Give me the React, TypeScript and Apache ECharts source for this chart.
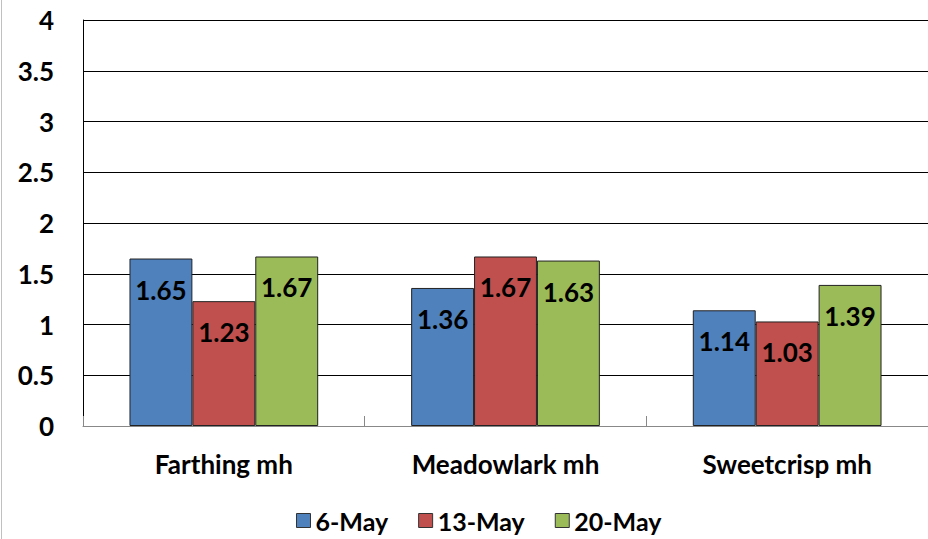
import React, { useEffect, useRef } from "react";
import * as echarts from "echarts";

const categories = ["Farthing mh", "Meadowlark mh", "Sweetcrisp mh"];
const seriesNames = ["6-May", "13-May", "20-May"];
const may6 = [1.65, 1.36, 1.14];
const may13 = [1.23, 1.67, 1.03];
const may20 = [1.67, 1.63, 1.39];
const colors = ["#4F81BD", "#C0504D", "#9BBB59"];

const FONT = "Lato, 'Open Sans', sans-serif";
const FS = 26;

export default function App() {
  const ref = useRef<HTMLDivElement>(null);
  useEffect(() => {
    if (!ref.current) return;
    const chart = echarts.init(ref.current, null, { renderer: "svg" });
    const data = [may6, may13, may20];
    chart.setOption({
      animation: false,
      backgroundColor: "#ffffff",
      grid: { left: 83, right: -4, top: 20, bottom: 113, containLabel: false },
      legend: {
        data: seriesNames,
        left: 291,
        top: 503,
        itemWidth: 14,
        itemHeight: 14,
        itemGap: 30,
        icon: "rect",
        textStyle: { fontFamily: FONT, fontWeight: "bold", fontSize: 25, color: "#000" },
        itemStyle: { borderColor: "#333", borderWidth: 1 },
      },
      xAxis: {
        type: "category",
        data: categories,
        axisLine: { lineStyle: { color: "#888", width: 1 } },
        axisTick: { show: true, inside: true, length: 10, lineStyle: { color: "#888" } },
        axisLabel: {
          margin: 25,
          fontFamily: FONT,
          fontWeight: "bold",
          fontSize: FS,
          color: "#000",
        },
      },
      yAxis: {
        type: "value",
        min: 0,
        max: 4,
        interval: 0.5,
        axisLine: { show: true, lineStyle: { color: "#000", width: 1 } },
        axisTick: { show: false },
        splitLine: { lineStyle: { color: "#000", width: 1 } },
        axisLabel: {
          margin: 29,
          fontFamily: FONT,
          fontWeight: "bold",
          fontSize: FS,
          color: "#000",
        },
      },
      graphic: [
        {
          type: "line",
          shape: { x1: 1.5, y1: 0, x2: 1.5, y2: 539 },
          style: { stroke: "#c0c0c0", lineWidth: 1 },
        },
      ],
      series: seriesNames.map((name, i) => ({
        name,
        type: "bar",
        data: data[i],
        barGap: "0%",
        barCategoryGap: "33%",
        itemStyle: { color: colors[i], borderColor: "#222", borderWidth: 1 },
        label: {
          show: true,
          position: "insideTop",
          distance: 18,
          fontFamily: FONT,
          fontWeight: "bold",
          fontSize: FS,
          color: "#000",
          formatter: (p: any) => p.value.toFixed(2),
        },
      })),
    });
    return () => chart.dispose();
  }, []);
  return (
    <div
      ref={ref}
      style={{ position: "fixed", left: 0, top: 0, width: 928, height: 539 }}
    />
  );
}
